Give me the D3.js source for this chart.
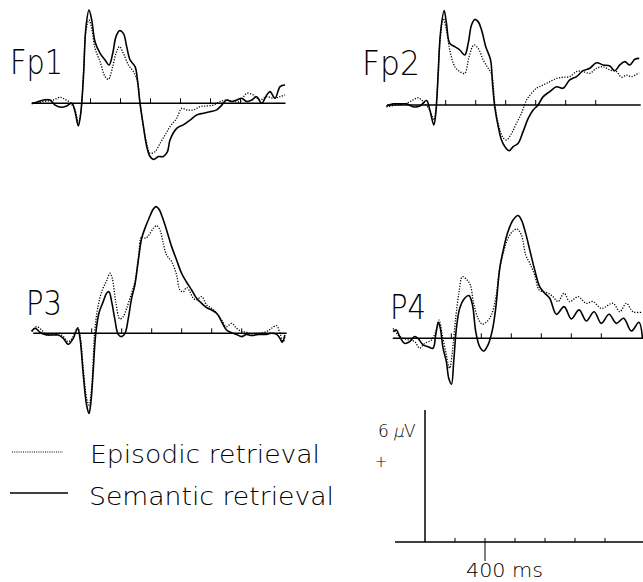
<!DOCTYPE html>
<html><head><meta charset="utf-8">
<script src="https://cdn.jsdelivr.net/npm/d3@7"></script>
<style>
html,body{margin:0;padding:0;background:#fff;}
svg{display:block;}
text{font-family:"DejaVu Sans",sans-serif;font-weight:200;fill:#000;}
</style></head>
<body>
<svg id="chart" width="643" height="582"></svg>
<script>
// ---- data (time in ms, amplitude in µV) ----
const channels = ["Fp1", "Fp2", "P3", "P4"];
const seriesNames = ["Episodic retrieval", "Semantic retrieval"];
const tickValues = [200, 400, 600, 800, 1000, 1200];
const scaleBarTimeLabel = "400 ms";
const scaleBarAmpParts = ["6", "µ", "V"];

const fp1Episodic = [[-192,-0.03],[-114,0.08],[-47,0.15],[-3,0.27],[30,0.18],[64,0.03],[97,-0.3],[119,-0.9],[135,-0.45],[153,1.36],[170,3.33],[190,3.79],[208,3.41],[230,2.5],[264,1.89],[297,1.21],[319,1.09],[348,1.67],[370,2.27],[393,2.58],[419,2.27],[453,1.74],[486,1.44],[513,0.98],[530,0.08],[553,-1.06],[575,-1.82],[597,-2.27],[630,-2.2],[664,-1.82],[697,-1.44],[730,-1.06],[775,-0.68],[808,-0.23],[841,-0.3],[886,-0.3],[930,-0.15],[975,-0.12],[1019,-0.08],[1064,0.08],[1108,0.15],[1153,0.08],[1197,0.08],[1241,0.45],[1286,0.38],[1330,0.15],[1375,0.3],[1419,0.23],[1464,0.3],[1497,0.38]];
const fp1Semantic = [[-192,0],[-159,0.05],[-114,0.15],[-70,0.15],[-36,-0.08],[8,-0.18],[41,-0.12],[75,0],[97,-0.38],[119,-1.03],[135,-0.45],[153,1.21],[170,3.48],[190,4.24],[208,3.79],[230,2.8],[264,2.27],[297,1.97],[324,1.74],[348,2.27],[370,3.03],[393,3.3],[419,3.18],[441,2.58],[464,1.97],[497,1.67],[513,1.06],[530,0],[553,-1.06],[575,-1.97],[597,-2.42],[619,-2.55],[653,-2.42],[686,-2.42],[713,-2.2],[730,-1.67],[775,-1.14],[819,-0.98],[864,-0.76],[908,-0.53],[953,-0.45],[997,-0.38],[1041,-0.3],[1075,-0.08],[1108,0.15],[1141,0.08],[1175,0.15],[1208,0.23],[1241,0.08],[1275,0.15],[1308,0.3],[1341,0],[1375,0.38],[1397,0.53],[1430,0.23],[1464,0.76],[1497,0.83]];

const fp2Episodic = [[-195,-0.08],[-128,0],[-61,0.08],[-17,0.23],[16,0.33],[50,0.15],[94,-0.23],[121,-0.68],[139,0.23],[161,2.8],[183,3.94],[205,3.41],[227,2.5],[261,1.74],[294,1.52],[327,1.44],[356,2.2],[388,2.73],[416,2.58],[450,2.05],[483,1.67],[505,1.44],[527,0.08],[550,-0.83],[578,-1.44],[605,-1.59],[639,-1.29],[672,-0.83],[705,-0.38],[739,0.23],[772,0.53],[805,0.76],[850,0.91],[894,1.06],[939,1.21],[983,1.26],[1027,1.29],[1072,1.52],[1116,1.52],[1161,1.44],[1205,1.67],[1250,1.74],[1294,1.59],[1339,1.52],[1372,1.26],[1405,1.36],[1439,1.29],[1490,1.47]];
const fp2Semantic = [[-195,-0.05],[-150,0.05],[-106,0.05],[-61,0.05],[-17,-0.08],[27,-0.05],[72,0.2],[94,-0.23],[121,-0.91],[134,-0.38],[150,1.44],[165,3.26],[190,4.29],[205,3.71],[227,2.8],[261,2.65],[294,2.5],[327,2.27],[350,2.8],[372,3.64],[394,3.89],[416,3.79],[439,3.41],[467,2.65],[499,2.05],[512,0.98],[527,-0.08],[550,-0.98],[572,-1.59],[594,-1.89],[623,-2.08],[650,-1.89],[683,-1.74],[716,-1.21],[750,-0.61],[783,-0.23],[816,0],[850,0.38],[894,0.61],[939,0.83],[983,0.76],[1027,1.14],[1072,1.29],[1116,1.56],[1161,1.67],[1205,1.92],[1250,1.82],[1294,1.77],[1327,1.56],[1361,1.82],[1394,1.97],[1427,1.82],[1461,2.08],[1490,2.12]];

const p3Episodic = [[-200,0.1],[-167,0.3],[-134,0.15],[-100,-0.08],[-67,-0.08],[-23,0],[11,-0.15],[44,-0.38],[77,-0.15],[106,0.26],[122,-0.08],[144,-1.59],[166,-2.95],[182,-3.26],[199,-2.5],[222,0.23],[244,1.29],[271,1.97],[299,2.38],[322,2.73],[337,2.5],[360,1.44],[388,0.65],[411,0.76],[433,1.14],[462,1.74],[488,2.35],[511,3.41],[533,4.39],[560,4.32],[582,4.47],[611,4.77],[633,4.89],[655,4.7],[677,4.09],[699,3.56],[733,3.26],[766,2.65],[788,1.97],[810,1.89],[833,2.08],[855,1.89],[877,1.59],[899,1.52],[933,1.67],[966,1.29],[999,1.14],[1033,0.91],[1066,0.61],[1099,0.3],[1133,0.45],[1166,0.23],[1199,0.08],[1233,0.05],[1277,-0.08],[1322,0],[1366,0.08],[1399,0.23],[1433,0.35],[1455,0],[1477,-0.38],[1488,-0.15]];
const p3Semantic = [[-200,0.08],[-178,0.23],[-145,0.05],[-112,-0.05],[-67,-0.08],[-23,-0.08],[11,-0.23],[44,-0.5],[77,-0.23],[106,0.23],[122,-0.23],[144,-1.89],[166,-3.26],[182,-3.64],[195,-3.11],[211,-1.59],[226,-0.08],[248,0.91],[277,1.44],[299,1.82],[315,1.89],[333,1.44],[355,0.61],[377,-0.05],[399,-0.15],[422,0],[444,0.68],[466,1.59],[488,2.2],[511,3.33],[533,4.32],[555,4.77],[582,5.23],[611,5.65],[628,5.76],[648,5.65],[670,5.3],[699,4.7],[733,3.94],[766,3.33],[799,2.73],[833,2.32],[866,1.97],[899,1.59],[933,1.36],[966,1.17],[999,1.06],[1033,0.91],[1055,0.68],[1077,0.38],[1099,0.15],[1133,0.03],[1166,-0.05],[1199,-0.15],[1233,-0.05],[1266,-0.1],[1311,-0.05],[1355,-0.05],[1399,0],[1433,-0.05],[1455,-0.23],[1470,-0.41],[1488,-0.08]];

const p4Episodic = [[-188,0.45],[-155,0.15],[-122,0],[-77,-0.08],[-44,-0.15],[-11,-0.45],[23,-0.23],[67,-0.08],[96,0.3],[118,0.83],[140,0.15],[167,-0.76],[189,-1.36],[207,-0.61],[229,0.91],[252,2.12],[274,2.8],[305,2.65],[327,2.42],[349,1.59],[378,0.91],[407,0.64],[438,0.76],[467,1.06],[496,1.82],[523,3.18],[549,3.94],[578,4.55],[612,4.88],[638,4.97],[667,4.7],[696,3.79],[723,3.41],[756,2.88],[785,2.2],[812,2.12],[845,2.05],[878,1.89],[912,1.67],[952,2.05],[989,1.67],[1045,1.89],[1100,1.59],[1145,1.67],[1200,1.36],[1278,1.59],[1323,1.21],[1367,1.59],[1411,1.21],[1467,1.18]];
const p4Semantic = [[-188,0.3],[-166,0.38],[-144,0.08],[-111,-0.23],[-77,-0.15],[-44,0.08],[-22,0],[12,-0.3],[45,-0.38],[78,-0.45],[96,0.15],[114,0.73],[127,0.45],[145,-0.45],[167,-1.06],[183,-1.82],[201,-2.09],[216,-1.06],[234,0.45],[256,1.36],[289,1.82],[318,1.94],[341,1.52],[363,0.3],[389,-0.38],[416,-0.58],[445,-0.3],[474,0.38],[496,1.36],[523,3.18],[549,4.09],[578,4.85],[612,5.38],[645,5.58],[667,5.38],[696,4.77],[723,4.02],[756,3.11],[789,2.35],[823,2.05],[856,1.82],[901,1.09],[952,1.44],[1000,0.88],[1052,1.29],[1100,0.79],[1152,1.21],[1200,0.68],[1252,1.09],[1300,0.68],[1349,0.91],[1400,0.33],[1451,0.73],[1474,0]];

const channelData = {
  Fp1: [fp1Episodic, fp1Semantic],
  Fp2: [fp2Episodic, fp2Semantic],
  P3:  [p3Episodic,  p3Semantic],
  P4:  [p4Episodic,  p4Semantic]
};

// ---- layout ----
const timeDomain = [-190, 1500];
const axisLen = 253.5;
const pxPerUV = 22;
const layout = {
  Fp1: {x0: 32,    base: 103.3, lx: 10,  ly: 74,  lw: 53},
  Fp2: {x0: 387.2, base: 105,   lx: 362, ly: 75,  lw: 58},
  P3:  {x0: 33.2,  base: 333.3, lx: 26,  ly: 315, lw: 36},
  P4:  {x0: 392.8, base: 338.3, lx: 390, ly: 319, lw: 36}
};
const styles = [
  {width: 1.3, dash: "1.2,1.5"},
  {width: 1.6, dash: null}
];

const svg = d3.select("#chart");
svg.append("rect").attr("width", 643).attr("height", 582).attr("fill", "#fff");

channels.forEach(ch => {
  const L = layout[ch];
  const x = d3.scaleLinear().domain(timeDomain).range([L.x0, L.x0 + axisLen]);
  const y = d3.scaleLinear().domain([0, 6]).range([L.base, L.base - 6 * pxPerUV]);
  const g = svg.append("g");
  g.append("line").attr("x1", x(timeDomain[0])).attr("x2", x(timeDomain[1]))
    .attr("y1", y(0)).attr("y2", y(0)).attr("stroke", "#000").attr("stroke-width", 1.5);
  g.selectAll("line.tk").data(tickValues).enter().append("line").attr("class", "tk")
    .attr("x1", d => x(d)).attr("x2", d => x(d))
    .attr("y1", y(0)).attr("y2", y(0) - 5).attr("stroke", "#000").attr("stroke-width", 1);
  const line = d3.line().x(d => x(d[0])).y(d => y(d[1])).curve(d3.curveCatmullRom.alpha(0.5));
  channelData[ch].forEach((s, i) => {
    g.append("path").attr("d", line(s)).attr("fill", "none").attr("stroke", "#000")
      .attr("stroke-width", styles[i].width)
      .attr("stroke-dasharray", styles[i].dash)
      .attr("stroke-linejoin", "round");
  });
  g.append("text").attr("x", L.lx).attr("y", L.ly).attr("font-size", 33)
    .attr("textLength", L.lw).attr("lengthAdjust", "spacingAndGlyphs").text(ch);
});

// ---- legend ----
const legendRows = [
  {y: 452, tx: 90, ty: 463, tw: 230, x1: 12, x2: 63},
  {y: 493, tx: 89, ty: 505, tw: 245, x1: 10, x2: 68}
];
seriesNames.forEach((name, i) => {
  const r = legendRows[i];
  svg.append("line").attr("x1", r.x1).attr("x2", r.x2).attr("y1", r.y).attr("y2", r.y)
    .attr("stroke", "#000").attr("stroke-width", i === 0 ? 1.1 : 1.6)
    .attr("stroke-dasharray", i === 0 ? "1,1.2" : null);
  svg.append("text").attr("x", r.tx).attr("y", r.ty).attr("font-size", 24)
    .attr("textLength", r.tw).attr("lengthAdjust", "spacingAndGlyphs").text(name);
});

// ---- scale bar ----
const sbX0 = 396.5, sbBase = 542;
const sx = d3.scaleLinear().domain(timeDomain).range([sbX0, sbX0 + axisLen]);
const sy = d3.scaleLinear().domain([0, 6]).range([sbBase, sbBase - 6 * pxPerUV]);
const sb = svg.append("g");
sb.append("line").attr("x1", sx(-200)).attr("x2", 643).attr("y1", sy(0)).attr("y2", sy(0))
  .attr("stroke", "#000").attr("stroke-width", 1.6);
sb.append("line").attr("x1", sx(0)).attr("x2", sx(0)).attr("y1", sy(0)).attr("y2", sy(6))
  .attr("stroke", "#000").attr("stroke-width", 1.5);
sb.selectAll("line.tk").data(tickValues).enter().append("line").attr("class", "tk")
  .attr("x1", d => sx(d)).attr("x2", d => sx(d))
  .attr("y1", d => d === 400 ? sy(0) + 19 : sy(0)).attr("y2", sy(0) - 4)
  .attr("stroke", "#000").attr("stroke-width", 1);
sb.append("text").attr("x", 466).attr("y", 577).attr("font-size", 19)
  .attr("textLength", 77).attr("lengthAdjust", "spacingAndGlyphs").text(scaleBarTimeLabel);
// amplitude label: "6 µV" with slanted µ
const ampPos = [[378, 0], [393, -12], [404, 0]];
scaleBarAmpParts.forEach((p, i) => {
  sb.append("text")
    .attr("transform", `translate(${ampPos[i][0]},437) skewX(${ampPos[i][1]})`)
    .attr("font-size", 17).text(p);
});
sb.append("text").attr("x", 381).attr("y", 467).attr("font-size", 15)
  .attr("text-anchor", "middle").text("+");
</script>
</body></html>
